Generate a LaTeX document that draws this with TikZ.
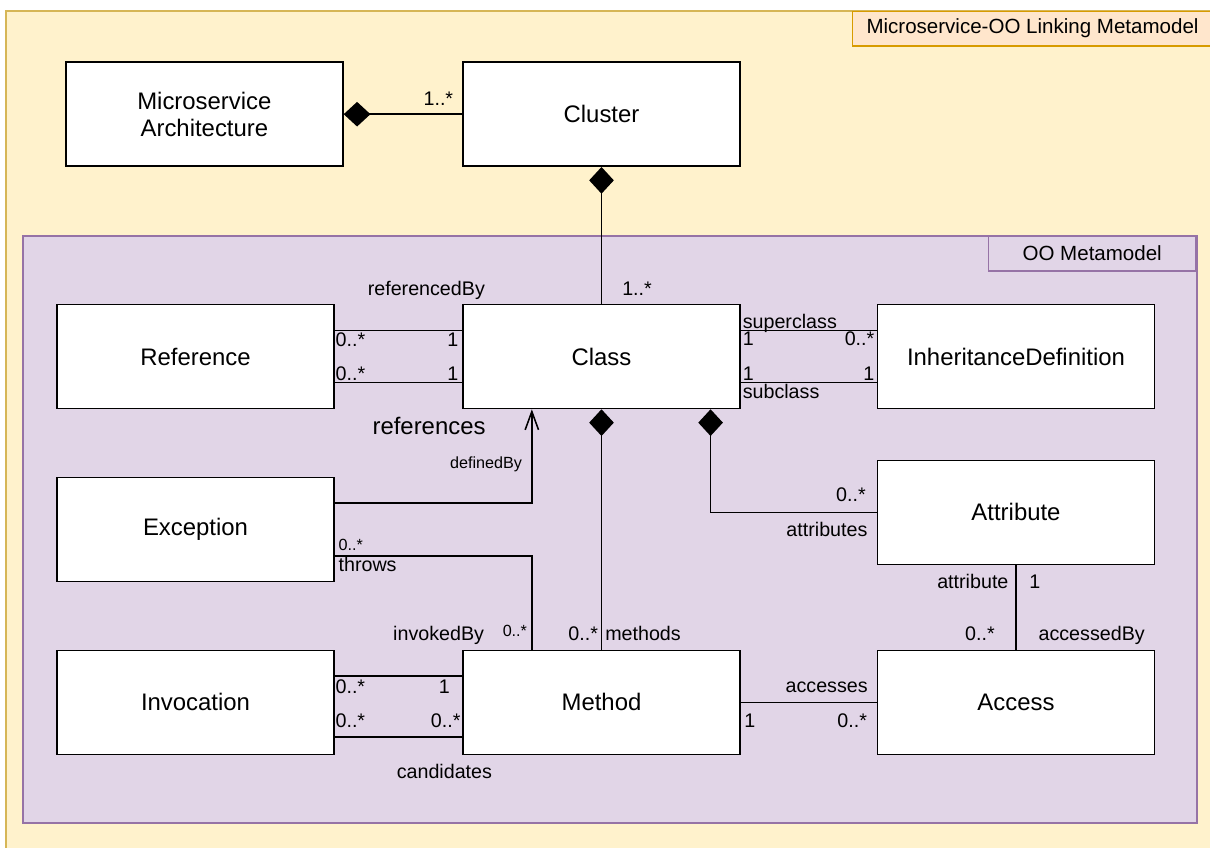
\documentclass[tikz,border=0pt]{standalone}
\usepackage{fontspec}
\setmainfont{Liberation Sans}
\usetikzlibrary{arrows.meta,calc}
\definecolor{linkfill}{HTML}{FFF2CC}
\definecolor{linkline}{HTML}{D6B656}
\definecolor{titlefill}{HTML}{FFE6CC}
\definecolor{titleline}{HTML}{D79B00}
\definecolor{oofill}{HTML}{E1D5E7}
\definecolor{ooline}{HTML}{9673A6}

\begin{document}
\begin{tikzpicture}[x=0.025cm,y=-0.025cm,
	cls/.style={draw, fill=white, line width=1.1pt, minimum width=6.925cm, minimum height=2.6cm, inner sep=0pt, align=center, font=\fontsize{17}{19.4}\selectfont},
	lab/.style={inner sep=0pt, font=\fontsize{14}{16}\selectfont},
	sml/.style={inner sep=0pt, font=\fontsize{11.5}{13}\selectfont},
	big/.style={inner sep=0pt, font=\fontsize{17}{19}\selectfont},
	tag/.style={line width=1.1pt, minimum height=0.8575cm, inner sep=0pt, font=\fontsize{14.6}{16}\selectfont},
	conn/.style={line width=1.1pt},
	comp/.style={conn, {Diamond[length=19pt,width=17.5pt]}-},
	dep/.style={conn, -{Straight Barb[length=13pt,width=9.5pt]}}]
\useasboundingbox (0,0) rectangle (1210,848);
\fill[white] (0,0) rectangle (1210,848);
\draw[fill=linkfill, draw=linkline, line width=1.4pt] (6,10.7) rectangle (1211.7,870);
\node[tag, draw=titleline, fill=titlefill, minimum width=9cm, anchor=north west] (title) at (851.7,10.7) {Microservice-OO Linking Metamodel};
\draw[fill=oofill, draw=ooline, line width=1.4pt] (22.7,235.7) rectangle (1196.7,822.7);
\node[tag, draw=ooline, minimum width=5.185cm, anchor=north east] (ootitle) at (1196.7,235.7) {OO Metamodel};

\node[cls] (arch) at (204.4,114.2) {Microservice\\Architecture};
\node[cls] (cluster) at (601.5,114.2) {Cluster};
\node[cls] (ref) at (195.5,356.5) {Reference};
\node[cls] (class) at (601.5,356.5) {Class};
\node[cls] (inh) at (1016,356.5) {InheritanceDefinition};
\node[cls] (exc) at (195.5,529.3) {Exception};
\node[cls] (attr) at (1016,512.3) {Attribute};
\node[cls] (inv) at (195.5,702.3) {Invocation};
\node[cls] (meth) at (601.5,702.3) {Method};
\node[cls] (acc) at (1016,702.3) {Access};

\draw[comp] (arch.east) -- (cluster.west);
\draw[comp] (cluster.south) -- (class.north);
\draw[conn] ([yshift=18.5pt]ref.east) -- ([yshift=18.5pt]class.west);
\draw[conn] ([yshift=-18.5pt]ref.east) -- ([yshift=-18.5pt]class.west);
\draw[conn] ([yshift=18.5pt]class.east) -- ([yshift=18.5pt]inh.west);
\draw[conn] ([yshift=-18.5pt]class.east) -- ([yshift=-18.5pt]inh.west);
\draw[dep] ([yshift=18.6pt]exc.east) -| ($(class.south)!0.5!(class.south west)$);
\draw[conn] ([yshift=-18.85pt]exc.east) -| ($(meth.north)!0.5!(meth.north west)$);
\draw[comp] (class.south) -- (meth.north);
\draw[comp] ($(class.south)!0.783!(class.south east)$) |- (attr.west);
\draw[conn] (attr.south) -- (acc.north);
\draw[conn] ([yshift=18.7pt]inv.east) -- ([yshift=18.7pt]meth.west);
\draw[conn] ([yshift=-24.5pt]inv.east) -- ([yshift=-24.5pt]meth.west);
\draw[conn] (meth.east) -- (acc.west);

\node[lab, anchor=base west] (clusterMul) at (423.3,105) {1..*};
\node[lab, anchor=base west] (classMul) at (622,295) {1..*};
\node[lab, anchor=base west] (refByRole) at (367.5,295) {referencedBy};
\node[lab, anchor=base west] (refByMulA) at (335.4,346.7) {0..*};
\node[lab, anchor=base east] (refByMulB) at (458.6,346.7) {1};
\node[lab, anchor=base west] (refsMulA) at (335.4,380) {0..*};
\node[lab, anchor=base east] (refsMulB) at (458.6,380) {1};
\node[big, anchor=base west] (refsRole) at (372.3,434.5) {references};
\node[lab, anchor=base west] (superRole) at (742.5,328.3) {superclass};
\node[lab, anchor=base west] (superMulA) at (742.5,345.7) {1};
\node[lab, anchor=base east] (superMulB) at (874.6,345.7) {0..*};
\node[lab, anchor=base west] (subMulA) at (742.5,380) {1};
\node[lab, anchor=base east] (subMulB) at (874.6,380) {1};
\node[lab, anchor=base west] (subRole) at (742.5,398.3) {subclass};
\node[sml, anchor=base east] (defRole) at (522.3,468.3) {definedBy};
\node[sml, anchor=base west] (throwsMul) at (338.3,550) {0..*};
\node[lab, anchor=base west] (throwsRole) at (338.3,571) {throws};
\node[lab, anchor=base east] (invByRole) at (484.3,640) {invokedBy};
\node[sml, anchor=base east] (invByMul) at (527.3,636) {0..*};
\node[lab, anchor=base east] (methMul) at (598.3,640) {0..*};
\node[lab, anchor=base west] (methRole) at (605,640) {methods};
\node[lab, anchor=base east] (attrMul) at (866,501.7) {0..*};
\node[lab, anchor=base east] (attrsRole) at (867.7,536.7) {attributes};
\node[lab, anchor=base east] (attrRole) at (1008.7,588.3) {attribute};
\node[lab, anchor=base west] (attrOne) at (1029,588.3) {1};
\node[lab, anchor=base east] (accByMul) at (995,640) {0..*};
\node[lab, anchor=base west] (accByRole) at (1038.3,640) {accessedBy};
\node[lab, anchor=base west] (invMulA) at (335.3,693.3) {0..*};
\node[lab, anchor=base east] (invMulB) at (450.1,693.3) {1};
\node[lab, anchor=base west] (candMulA) at (335.3,727.3) {0..*};
\node[lab, anchor=base east] (candMulB) at (460.8,727.3) {0..*};
\node[lab, anchor=base west] (candRole) at (396.5,778.3) {candidates};
\node[lab, anchor=base east] (accRole) at (868,692.7) {accesses};
\node[lab, anchor=base west] (accOne) at (744,727.3) {1};
\node[lab, anchor=base east] (accMul) at (867.3,727.3) {0..*};
\end{tikzpicture}
\end{document}
